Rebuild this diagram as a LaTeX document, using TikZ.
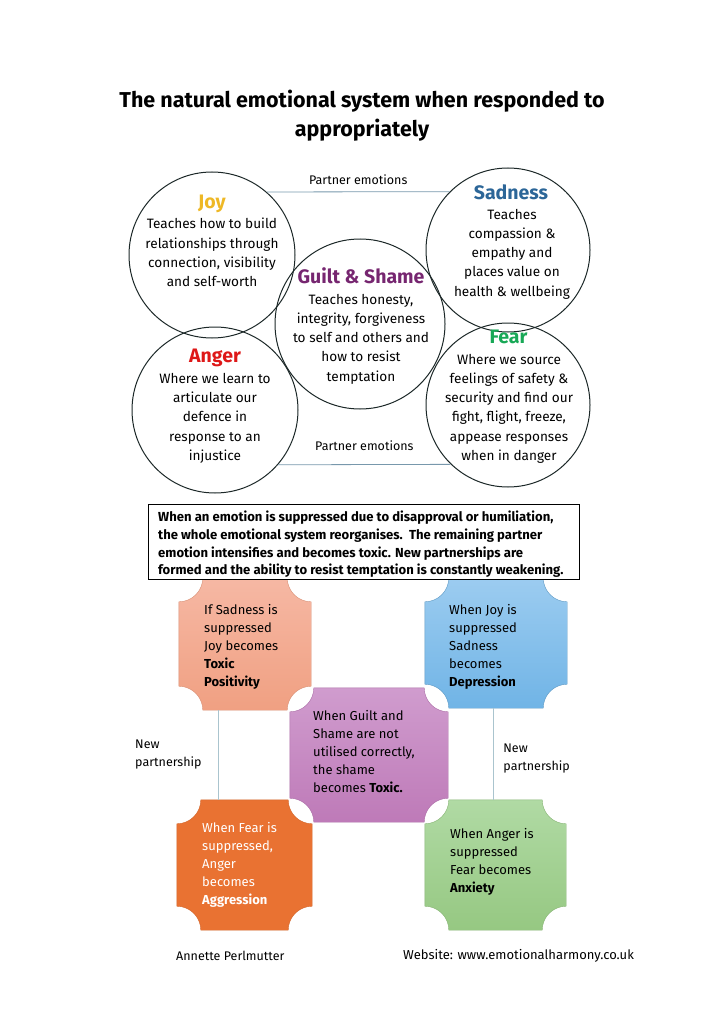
\documentclass[tikz,border=0pt]{standalone}
\usepackage{fontspec}
\setmainfont{Fira Sans}
\usepackage{tikz}
\usetikzlibrary{positioning}

\definecolor{joycol}{RGB}{238,184,38}
\definecolor{sadcol}{RGB}{44,102,152}
\definecolor{guiltcol}{RGB}{118,38,112}
\definecolor{angercol}{RGB}{222,24,24}
\definecolor{fearcol}{RGB}{24,168,86}
\definecolor{ringcol}{RGB}{28,40,40}
\definecolor{partnercol}{RGB}{120,152,172}
\definecolor{newcol}{RGB}{170,196,206}
\definecolor{toxtop}{RGB}{246,184,164}
\definecolor{toxbot}{RGB}{240,160,130}
\definecolor{deptop}{RGB}{156,204,240}
\definecolor{depbot}{RGB}{112,180,230}
\definecolor{shametop}{RGB}{208,156,206}
\definecolor{shamebot}{RGB}{190,122,184}
\definecolor{aggcol}{RGB}{233,114,50}
\definecolor{anxtop}{RGB}{176,218,164}
\definecolor{anxbot}{RGB}{150,200,130}

\tikzset{
  plaque shape/.style={insert path={
    ([xshift=24pt]#1.north west) -- ([xshift=-24pt]#1.north east)
    arc[start angle=180, end angle=270, radius=24pt]
    -- ([yshift=24pt]#1.south east)
    arc[start angle=90, end angle=180, radius=24pt]
    -- ([xshift=24pt]#1.south west)
    arc[start angle=0, end angle=90, radius=24pt]
    -- ([yshift=-24pt]#1.north west)
    arc[start angle=270, end angle=360, radius=24pt] -- cycle}},
}

\begin{document}
\begin{tikzpicture}[x=1pt, y=1pt,
    emotion/.style={circle, draw=ringcol, line width=1pt, minimum size=#1, inner sep=0},
    etitle/.style={anchor=base, inner sep=0, font=\fontsize{19.5}{22}\selectfont\bfseries},
    ebody/.style={anchor=north, inner sep=0, align=center, font=\fontsize{13.6}{19.2}\selectfont},
    plaque/.style={rectangle, inner sep=0},
    ptext/.style={anchor=north west, inner sep=0, align=left, font=\fontsize{13}{17.9}\selectfont},
    partner/.style={draw=partnercol, line width=0.8pt},
    newpart/.style={draw=newcol, line width=0.9pt},
    small/.style={inner sep=0, align=left, font=\fontsize{12.5}{18}\selectfont},
  ]
  \useasboundingbox (0,0) rectangle (724,-1024);

  % title
  \node (title) [align=center, font=\fontsize{21.5}{29}\selectfont\bfseries] at (362,-115.5)
    {The natural emotional system when responded to\\appropriately};

  % the five emotions
  \node (joy) [emotion=166] at (212,-255) {};
  \node (sad) [emotion=164] at (508,-250) {};
  \node (guilt) [emotion=170] at (360,-324) {};
  \node (anger) [emotion=166] at (215,-410) {};
  \node (fear) [emotion=164] at (508,-405) {};

  \node (joyt) [etitle, text=joycol] at (212,-208.5) {Joy};
  \node (joyb) [ebody] at (212,-218) {Teaches how to build\\relationships through\\connection, visibility\\and self-worth};
  \node (sadt) [etitle, text=sadcol] at (511,-199.5) {Sadness};
  \node (sadb) [ebody] at (512,-209) {Teaches\\compassion \&\\empathy and\\places value on\\health \& wellbeing};
  \node (guiltt) [etitle, text=guiltcol] at (361,-283.5) {Guilt \& Shame};
  \node (guiltb) [ebody] at (361,-294) {Teaches honesty,\\integrity, forgiveness\\to self and others and\\how to resist\\temptation};
  \node (angert) [etitle, text=angercol] at (215,-362.5) {Anger};
  \node (angerb) [ebody] at (215,-373) {Where we learn to\\articulate our\\defence in\\response to an\\injustice};
  \node (feart) [etitle, text=fearcol] at (508.5,-343.5) {Fear};
  \node (fearb) [ebody] at (509,-354) {Where we source\\feelings of safety \&\\security and find our\\fight, flight, freeze,\\appease responses\\when in danger};

  \draw[partner] (joy.49) -- (sad.135) node [midway, above=7pt, small] {Partner emotions};
  \draw[partner] (anger.-41) -- (fear.-134) node [midway, above=14pt, small] {Partner emotions};

  % suppressed emotions
  \node (toxpos) [plaque, minimum width=132, minimum height=132] at (245,-644) {};
  \node (depr) [plaque, minimum width=142, minimum height=130] at (496,-643) {};
  \node (aggr) [plaque, minimum width=135, minimum height=130] at (244.5,-865) {};
  \node (anx) [plaque, minimum width=141, minimum height=130] at (495.5,-865) {};
  \node (toxsh) [plaque, minimum width=158, minimum height=134] at (369,-755) {};

  \path[top color=toxtop, bottom color=toxbot, draw=toxbot!90!black, line width=0.4pt, plaque shape=toxpos];
  \path[top color=deptop, bottom color=depbot, draw=depbot!85!black, line width=0.4pt, plaque shape=depr];
  \path[fill=aggcol, draw=aggcol!90!black, line width=0.4pt, plaque shape=aggr];
  \path[top color=anxtop, bottom color=anxbot, draw=anxbot!90!black, line width=0.4pt, plaque shape=anx];
  \path[top color=shametop, bottom color=shamebot, draw=shamebot!90!black, line width=0.4pt, plaque shape=toxsh];

  \node (toxpost) [ptext] at (204,-604.5) {If Sadness is\\suppressed\\Joy becomes\\\textbf{Toxic}\\\textbf{Positivity}};
  \node (deprt) [ptext] at (449,-604.5) {When Joy is\\suppressed\\Sadness\\becomes\\\textbf{Depression}};
  \node (toxsht) [ptext] at (313,-710.5) {When Guilt and\\Shame are not\\utilised correctly,\\the shame\\becomes \textbf{Toxic.}};
  \node (aggrt) [ptext, text=white] at (202,-822.5) {When Fear is\\suppressed,\\Anger\\becomes\\\textbf{Aggression}};
  \node (anxt) [ptext] at (450,-828.5) {When Anger is\\suppressed\\Fear becomes\\\textbf{Anxiety}};

  \draw[newpart] ([xshift=-27pt]toxpos.south) -- ([xshift=-27pt]toxpos.south |- aggr.north)
    node [midway, left=16pt, small] {New\\partnership};
  \draw[newpart] ([xshift=-3pt]depr.south) -- ([xshift=-3pt]depr.south |- anx.north)
    node [midway, right=10pt, yshift=-5pt, small] {New\\partnership};

  % the note
  \node (note) [rectangle, draw, line width=1pt, fill=white, minimum width=431, minimum height=75]
    at (363.5,-541.5) {};
  \node (notetext) [anchor=north west, inner sep=0, align=left, font=\fontsize{13.1}{17.6}\selectfont\bfseries]
    at (158,-511)
    {When an emotion is suppressed due to disapproval or humiliation,\\
     the whole emotional system reorganises.\ \ The remaining partner\\
     emotion intensifies and becomes toxic. New partnerships are\\
     formed and the ability to resist temptation is constantly weakening.};

  % footer
  \node (author) [small, anchor=west] at (176,-956) {Annette Perlmutter};
  \node (site) [small, anchor=west, font=\fontsize{13}{18}\selectfont] at (403,-956) {Website: www.emotionalharmony.co.uk};
\end{tikzpicture}
\end{document}
